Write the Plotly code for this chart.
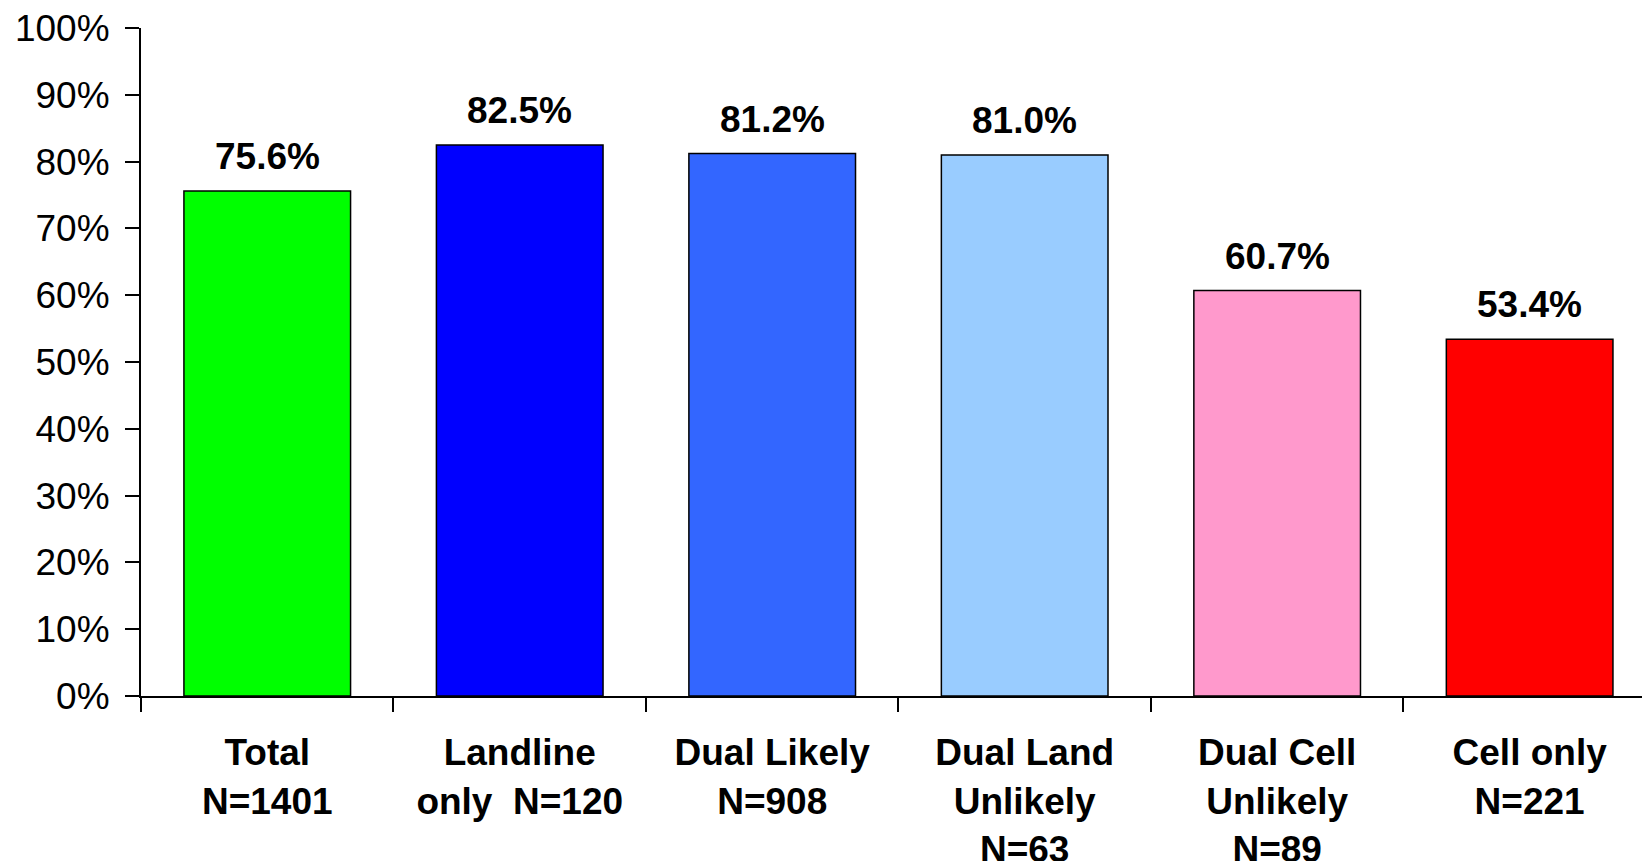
import plotly.graph_objects as go

categories = ["Total<br>N=1401", "Landline<br>only\u00a0\u00a0N=120", "Dual Likely<br>N=908",
              "Dual Land<br>Unlikely<br>N=63", "Dual Cell<br>Unlikely<br>N=89", "Cell only<br>N=221"]
values = [75.6, 82.5, 81.2, 81.0, 60.7, 53.4]
value_labels = ["75.6%", "82.5%", "81.2%", "81.0%", "60.7%", "53.4%"]
colors = ["#00FF00", "#0000FF", "#3366FF", "#99CCFF", "#FF99CC", "#FF0000"]
ytick_vals = [0, 10, 20, 30, 40, 50, 60, 70, 80, 90, 100]
ytick_text = ["0%", "10%", "20%", "30%", "40%", "50%", "60%", "70%", "80%", "90%", "100%"]

FONT = "Arial, 'Liberation Sans', sans-serif"

fig = go.Figure()
fig.add_trace(go.Bar(
    x=categories, y=values,
    marker=dict(color=colors, line=dict(color="black", width=1.5)),
    width=0.66,
    hoverinfo="skip",
))

for c, v, t in zip(categories, values, value_labels):
    fig.add_annotation(x=c, y=v, text="<b>" + t + "</b>", showarrow=False,
                       yanchor="bottom", yshift=12,
                       font=dict(family=FONT, size=37, color="black"))

fig.update_layout(
    width=1642, height=861,
    margin=dict(l=141, r=0, t=28, b=165),
    paper_bgcolor="white", plot_bgcolor="white",
    showlegend=False,
    font=dict(family=FONT, color="black"),
)
fig.update_xaxes(
    range=[-0.5, 5.445], automargin=False,
    tickson="boundaries", ticks="outside", ticklen=14, tickwidth=1.5, tickcolor="black",
    showline=True, linecolor="black", linewidth=2,
    showgrid=False, zeroline=False,
    tickfont=dict(family=FONT, size=37, color="black", weight="bold"),
    ticklabelstandoff=23,
)
fig.update_yaxes(
    range=[0, 100], tickvals=ytick_vals, ticktext=ytick_text, automargin=False,
    ticks="outside", ticklen=14, tickwidth=1.5, tickcolor="black",
    showline=True, linecolor="black", linewidth=2,
    showgrid=False, zeroline=False,
    tickfont=dict(family=FONT, size=37, color="black"),
    ticklabelstandoff=8,
)

fig.write_html("out.html",
               config={"displayModeBar": False},
               post_script="document.body.style.margin='0px';document.body.style.overflow='hidden';")
